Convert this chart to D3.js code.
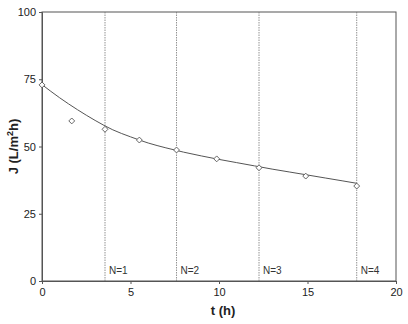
<!DOCTYPE html>
<html>
<head>
<meta charset="utf-8">
<script src="https://cdn.jsdelivr.net/npm/d3@7"></script>
<style>
  body { margin: 0; background: #fff; }
  svg { display: block; font-family: Arial, "Liberation Sans", sans-serif; }
</style>
</head>
<body>
<div id="chart"></div>
<script>
// measured points (open diamonds)
const pointT = [0, 1.68, 3.56, 5.5, 7.6, 9.87, 12.26, 14.9, 17.78]
const pointJ = [72.9, 59.5, 56.4, 52.4, 48.7, 45.4, 42.1, 39.0, 35.3]

// trend curve
const curveT = [0, 1, 2, 3, 4, 5, 6, 7, 8, 9, 10, 11, 12, 13, 14, 15, 16, 17, 17.8]
const curveJ = [73, 68.1, 63.7, 59.7, 56.2, 53.6, 51.3, 49.5, 47.9, 46.5, 45.2, 44.0, 42.8, 41.6, 40.5, 39.4, 38.3, 37.2, 36.3]

// cleaning cycles (vertical lines)
const cycleT = [3.56, 7.6, 12.26, 17.78]
const cycleLabels = ['N=1', 'N=2', 'N=3', 'N=4']

const xTicks = [0, 5, 10, 15, 20]
const yTicks = [0, 25, 50, 75, 100]

var margin = {top: 12, right: 12, bottom: 43, left: 42}
var width  = 408 - margin.left - margin.right
var height = 324 - margin.top - margin.bottom

var svg = d3.select('#chart')
  .append('svg').attr('width', 408).attr('height', 324)
  .append('g').attr('transform', 'translate(' + margin.left + ',' + margin.top + ')')

var x = d3.scaleLinear().domain([0, 20]).range([0, width])
var y = d3.scaleLinear().domain([0, 100]).range([height, 0])

// frame (top and right)
svg.append('rect')
  .attr('x', 0).attr('y', 0).attr('width', width).attr('height', height)
  .attr('fill', 'none').attr('stroke', '#555').attr('stroke-width', 1)

// vertical cycle lines
svg.selectAll('.cycle').data(cycleT).enter().append('line')
  .attr('class', 'cycle')
  .attr('x1', d => x(d)).attr('x2', d => x(d))
  .attr('y1', 0).attr('y2', height)
  .attr('stroke', '#777').attr('stroke-width', 0.8)
  .attr('stroke-dasharray', '1.5,1')

svg.selectAll('.nlab').data(cycleT).enter().append('text')
  .attr('x', d => x(d) + 4).attr('y', height - 7)
  .attr('font-size', 10).attr('fill', '#333')
  .text((d, i) => cycleLabels[i])

// axes
var xAxis = svg.append('g').attr('transform', 'translate(0,' + height + ')')
  .call(d3.axisBottom(x).tickValues(xTicks).tickSize(3).tickPadding(4))
var yAxis = svg.append('g')
  .call(d3.axisLeft(y).tickValues(yTicks).tickSize(3).tickPadding(3))

;[xAxis, yAxis].forEach(function(a) {
  a.select('.domain').attr('stroke', '#555')
  a.selectAll('.tick line').attr('stroke', '#555')
  a.selectAll('.tick text').attr('font-size', 11).attr('fill', '#222')
    .style('font-family', 'Arial, "Liberation Sans", sans-serif')
})

// trend curve
svg.append('path')
  .datum(curveT.map((t, i) => [t, curveJ[i]]))
  .attr('fill', 'none').attr('stroke', '#555').attr('stroke-width', 1)
  .attr('d', d3.line().x(d => x(d[0])).y(d => y(d[1])).curve(d3.curveMonotoneX))

// points
svg.selectAll('.pt').data(pointT.map((t, i) => [t, pointJ[i]])).enter().append('path')
  .attr('class', 'pt')
  .attr('transform', d => 'translate(' + x(d[0]) + ',' + y(d[1]) + ')')
  .attr('d', d3.symbol().type(d3.symbolDiamond2).size(22))
  .attr('fill', 'white').attr('stroke', '#555').attr('stroke-width', 0.9)

// axis titles
svg.append('text')
  .attr('x', x(10) + 4).attr('y', height + 34)
  .attr('text-anchor', 'middle').attr('font-size', 13).attr('font-weight', 'bold').attr('fill', '#222')
  .text('t (h)')

var yt = svg.append('text')
  .attr('transform', 'translate(' + (-24) + ',' + (height / 2) + ') rotate(-90)')
  .attr('text-anchor', 'middle').attr('font-size', 13).attr('font-weight', 'bold').attr('fill', '#222')
yt.append('tspan').text('J (L/m')
yt.append('tspan').attr('font-size', 9).attr('dy', -5).text('2')
yt.append('tspan').attr('dy', 5).text('h)')
</script>
</body>
</html>
